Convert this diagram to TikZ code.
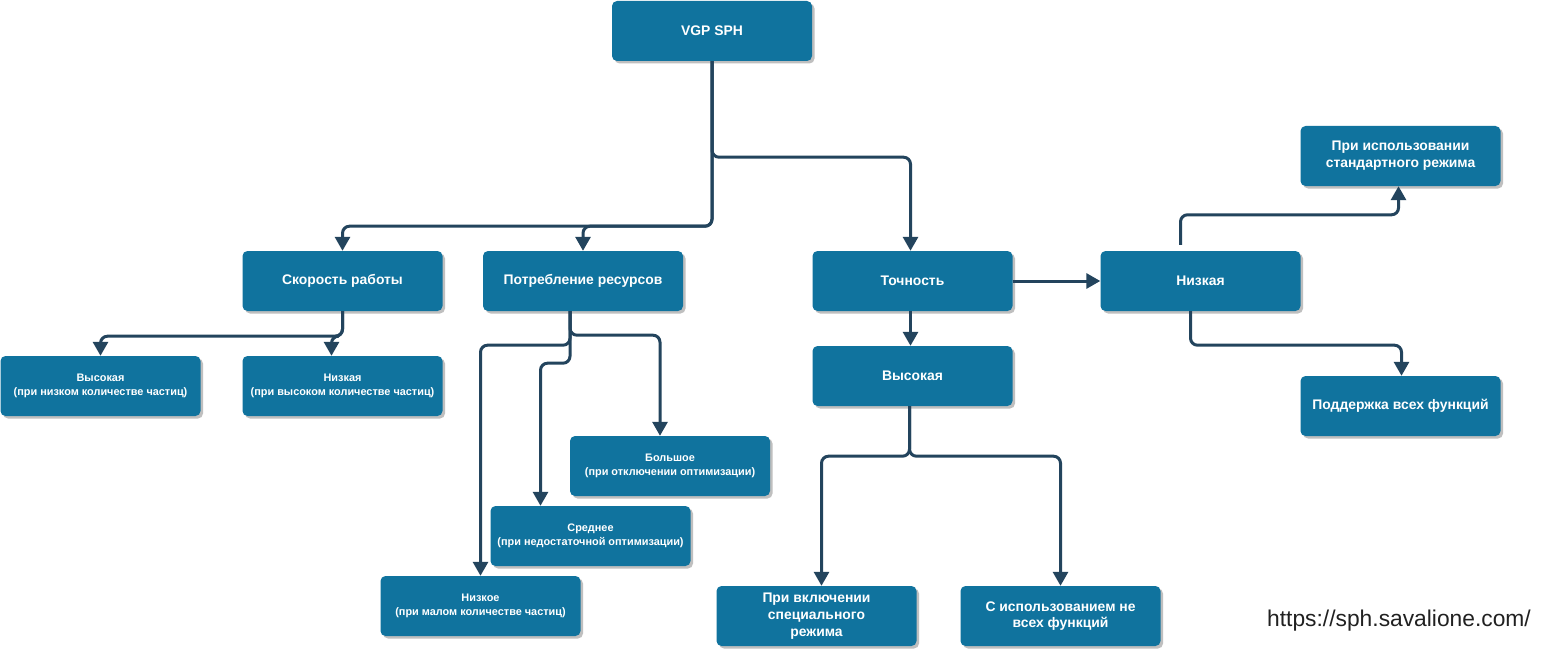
\documentclass[tikz,border=0pt]{standalone}
\usepackage{fontspec}
\setmainfont{Liberation Sans}
\usetikzlibrary{arrows.meta,shadows,calc}
\definecolor{boxblue}{HTML}{10739E}
\definecolor{edgecol}{HTML}{23445D}
\tikzset{
  box/.style={rectangle, rounded corners=5pt, fill=boxblue, text=white,
    minimum width=200pt, minimum height=60pt, inner sep=2pt, align=center,
    font=\bfseries\fontsize{13.9}{16.7}\selectfont,
    drop shadow={shadow xshift=2.5pt, shadow yshift=-2.5pt, fill=black!25, opacity=1}},
  smallbox/.style={box, font=\bfseries\fontsize{10.9}{14}\selectfont},
  conn/.style={draw=edgecol, line width=3pt, rounded corners=7pt,
    -{Triangle[width=15pt,length=14pt]}}
}
\begin{document}
\begin{tikzpicture}[x=1pt,y=-1pt]
\fill[white] (0,0) rectangle (1541,650);
\useasboundingbox (0,0) rectangle (1541,650);

\node[box] (vgp) at (712,31) {VGP SPH};
\node[box] (skor) at (342.5,281) {Скорость работы};
\node[box] (potr) at (583,281) {Потребление ресурсов};
\node[box] (toch) at (912.5,281) {Точность};
\node[box] (nizr) at (1200.5,281) {Низкая};
\node[box] (prisp) at (1400.5,156) {При использовании\\стандартного режима};
\node[box] (podd) at (1400.5,406) {Поддержка всех функций};
\node[box] (vys) at (912.5,376) {Высокая};
\node[smallbox] (vys1) at (100.5,386) {Высокая\\(при низком количестве частиц)};
\node[smallbox] (niz1) at (342.5,386) {Низкая\\(при высоком количестве частиц)};
\node[smallbox] (bolsh) at (670,466) {Большое\\(при отключении оптимизации)};
\node[smallbox] (sred) at (590.5,536) {Среднее\\(при недостаточной оптимизации)};
\node[smallbox] (nizk) at (480.5,606) {Низкое\\(при малом количестве частиц)};
\node[box] (privk) at (816.5,616) {При включении\\специального\\режима};
\node[box] (sisp) at (1060.5,616) {С использованием не\\всех функций};

\node[anchor=west, inner sep=0pt, text=black!87, font=\fontsize{22.8}{27}\selectfont] (url) at (1267,621) {https://sph.savalione.com/};

\draw[conn] (vgp.south) -- ++(0,165) -| (skor.north);
\draw[conn] (vgp.south) -- ++(0,165) -| (potr.north);
\draw[conn] (vgp.south) -- ++(0,96) -| ([xshift=-2pt]toch.north);
\draw[conn] (toch.east) -- (nizr.west);
\draw[conn] ([xshift=-2pt]toch.south) -- ([xshift=-2pt]vys.north);
\draw[conn] ([xshift=-20pt,yshift=6pt]nizr.north) -- ++(0,-30) -| ([xshift=-2pt]prisp.south);
\draw[conn] ([xshift=-10pt]nizr.south) -- ++(0,34) -| ([xshift=1pt]podd.north);
\draw[conn] (skor.south) -- ++(0,25) -| (vys1.north);
\draw[conn] (skor.south) -- ++(0,25) -| ([xshift=-11pt]niz1.north);
\draw[conn] ([xshift=-13pt]potr.south) -- ++(0,24) -| ([xshift=-10pt]bolsh.north);
\draw[conn] ([xshift=-13pt]potr.south) -- ++(0,34) -| (nizk.north);
\draw[conn] ([xshift=-13pt]potr.south) -- ++(0,52) -| ([xshift=-50pt]sred.north);
\draw[conn] ([xshift=-3pt]vys.south) -- ++(0,50) -| ([xshift=5pt]privk.north);
\draw[conn] ([xshift=-3pt]vys.south) -- ++(0,50) -| (sisp.north);
\end{tikzpicture}
\end{document}
